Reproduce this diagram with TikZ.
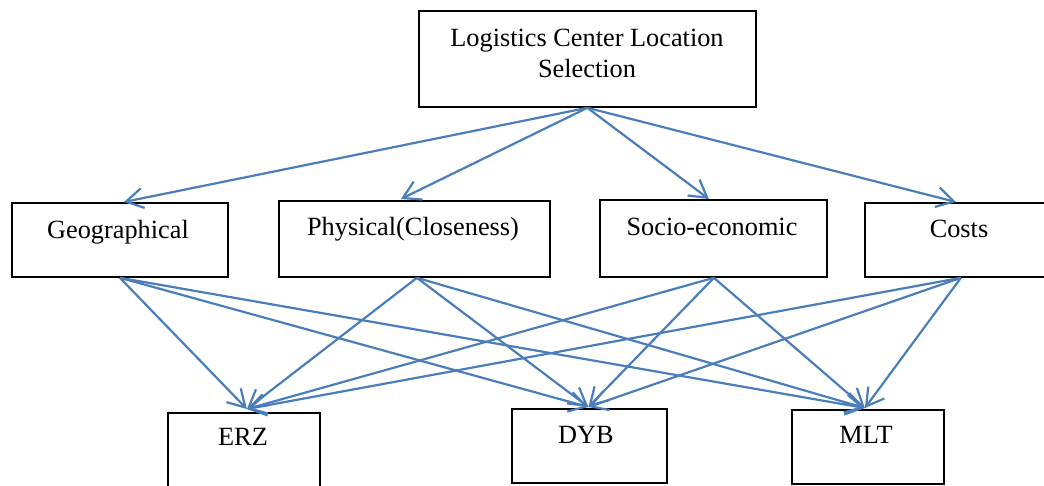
\documentclass[tikz,border=0pt]{standalone}
\usepackage{fontspec}
\setmainfont{Liberation Serif}
\usetikzlibrary{arrows.meta,calc}
\definecolor{conn}{HTML}{4A7EBB}
\tikzset{
  box/.style={draw=black, line width=1.8pt, inner sep=0pt, anchor=north west},
  lbl/.style={inner sep=0pt, anchor=base, font=\fontsize{26.3}{31}\selectfont},
  conn/.style={draw=conn, line width=2.2pt, -{Straight Barb[length=17pt,width=20pt,line width=2.2pt]}}
}
\begin{document}
\begin{tikzpicture}[x=1pt,y=-1pt]
\useasboundingbox (0,0) rectangle (1044,485);
\clip (0,0) rectangle (1044,485);
% boxes
\node[box, minimum width=337pt, minimum height=96pt] (top) at (418,10) {};
\node[box, minimum width=216pt, minimum height=74pt] (geo) at (11,202) {};
\node[box, minimum width=271pt, minimum height=76pt] (phys) at (278,200) {};
\node[box, minimum width=227pt, minimum height=77pt] (socio) at (599,199) {};
\node[box, minimum width=192pt, minimum height=74pt] (costs) at (864,202) {};
\node[box, minimum width=152pt, minimum height=88pt] (erz) at (167,412) {};
\node[box, minimum width=155pt, minimum height=74pt] (dyb) at (511,408) {};
\node[box, minimum width=152pt, minimum height=74pt] (mlt) at (791,409) {};
% labels
\node[lbl] (topA) at (587,46) {Logistics Center Location};
\node[lbl] (topB) at (587,77) {Selection};
\node[lbl] (geoT) at (118,238.5) {Geographical};
\node[lbl] (physT) at (413,235.5) {Physical(Closeness)};
\node[lbl] (socioT) at (712,235.5) {Socio-economic};
\node[lbl] (costsT) at (959,237.5) {Costs};
\node[lbl] (erzT) at (243,445.5) {ERZ};
\node[lbl] (dybT) at (586,443.5) {DYB};
\node[lbl] (mltT) at (866,443.5) {MLT};
% top-level connectors
\draw[conn] (top.south) -- ($(geo.north)+(4,0)$);
\draw[conn] (top.south) -- ($(phys.north)+(-13.5,-1)$);
\draw[conn] (top.south) -- ($(socio.north)+(-4.5,0)$);
\draw[conn] (top.south) -- ($(costs.north)+(-5,0)$);
% criteria to alternatives
\foreach \s/\sx in {geo/0, phys/2.5, socio/0.5, costs/0}{
  \draw[conn] ($(\s.south)+(\sx,0)$) -- ($(erz.north)+(3,-3)$);
  \draw[conn] ($(\s.south)+(\sx,0)$) -- ($(dyb.north)+(-1,-1)$);
  \draw[conn] ($(\s.south)+(\sx,0)$) -- ($(mlt.north)+(-3,-1)$);
}
\end{tikzpicture}
\end{document}
